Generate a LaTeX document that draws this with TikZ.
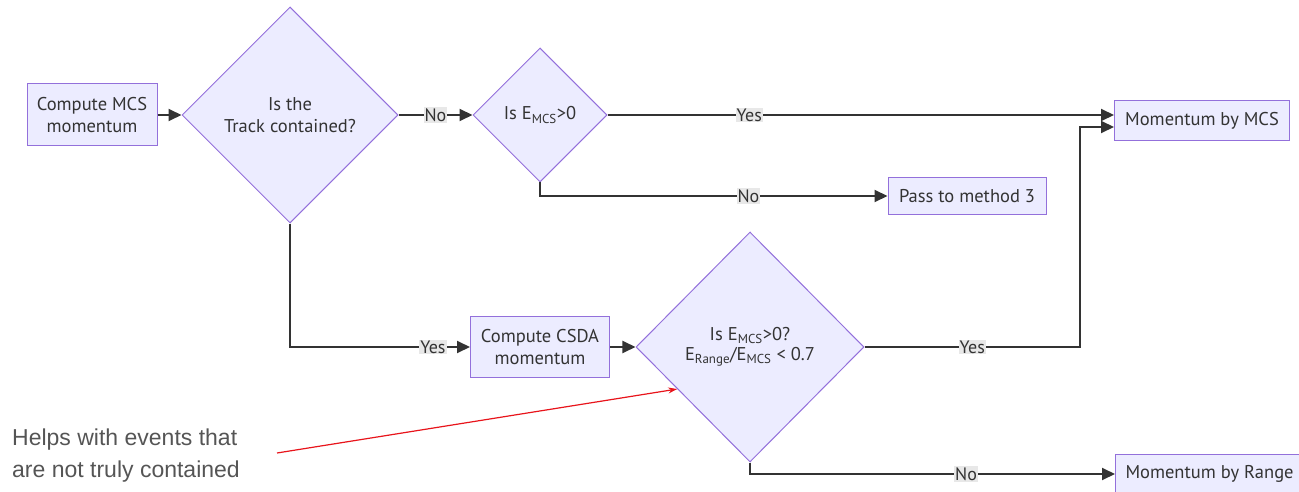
\documentclass[tikz,border=0pt]{standalone}
\usepackage{fontspec}
\setmainfont{PT Sans}
\newfontfamily\notefont{Liberation Sans}
\usetikzlibrary{shapes.geometric,arrows.meta}
\definecolor{nodefill}{HTML}{ECECFF}
\definecolor{nodeline}{HTML}{9370DB}
\definecolor{edgeline}{HTML}{333333}
\definecolor{labelbg}{HTML}{E8E8E8}
\definecolor{notegray}{HTML}{555555}
\definecolor{notered}{HTML}{E8141B}
\begin{document}
\begin{tikzpicture}[x=1pt,y=-1pt,
  every node/.style={font=\fontsize{18.5}{22}\selectfont, text=edgeline},
  procbox/.style={draw=nodeline, fill=nodefill, line width=1pt, rectangle, inner sep=0pt, align=center},
  decision/.style={draw=nodeline, fill=nodefill, line width=1pt, diamond, inner sep=0pt, align=center},
  flow/.style={draw=edgeline, line width=1.9pt, -{Triangle[length=13pt,width=12pt]}},
  elabel/.style={fill=labelbg, inner sep=1pt, font=\fontsize{18}{21}\selectfont},
  pointer/.style={draw=notered, line width=1.2pt, -{Stealth[length=9pt,width=6pt]}}
]
\useasboundingbox (0,0) rectangle (1299,492);

% process boxes
\node[procbox, minimum width=130pt, minimum height=62pt] (mcs) at (92,115) {Compute MCS\\momentum};
\node[procbox, minimum width=175pt, minimum height=40pt] (bymcs) at (1202,121) {Momentum by MCS};
\node[procbox, minimum width=158pt, minimum height=36pt] (pass3) at (967,196) {Pass to method 3};
\node[procbox, minimum width=139pt, minimum height=61pt] (csda) at (540,347) {Compute CSDA\\momentum};
\node[procbox, minimum height=40pt, inner xsep=10pt, anchor=west] (byrange) at (1115,474) {Momentum by Range\hspace*{20pt}};

% decisions
\node[decision, minimum width=216pt, minimum height=216pt] (cont) at (290,115) {Is the\\Track contained?};
\node[decision, minimum width=134pt, minimum height=134pt] (emcs) at (540,115) {Is E\textsubscript{MCS}>0};
\node[decision, minimum width=228pt, minimum height=230pt] (ratio) at (750,347)
  {Is E\textsubscript{MCS}>0?\\[-2pt]E\textsubscript{Range}/E\textsubscript{MCS} < 0.7};

\coordinate (turn) at (1080,0);

% connectors
\draw[flow] (mcs) -- (cont);
\draw[flow] (cont) -- node[elabel]{No} (emcs);
\draw[flow] (emcs.east) -- node[elabel, pos=0.28]{Yes} (bymcs.west |- emcs.east);
\draw[flow] (emcs.south) |- node[elabel, pos=0.8]{No} (pass3.west);
\draw[flow] (cont.south) |- node[elabel, pos=0.897]{Yes} (csda.west);
\draw[flow] (csda) -- (ratio);
\draw[flow] (ratio.east) -- node[elabel]{Yes} (ratio.east -| turn) |- ([yshift=-6pt]bymcs.west);
\draw[flow] (ratio.south) |- node[elabel, pos=0.796]{No} (byrange.west);

% annotation
\node[font=\notefont\fontsize{23}{32}\selectfont, text=notegray, align=left, anchor=west, inner sep=0pt] (note) at (12,456)
  {Helps with events that\\are not truly contained};
\coordinate (notetail) at (277,453);
\draw[pointer] (notetail) -- (ratio.210);
\end{tikzpicture}
\end{document}
